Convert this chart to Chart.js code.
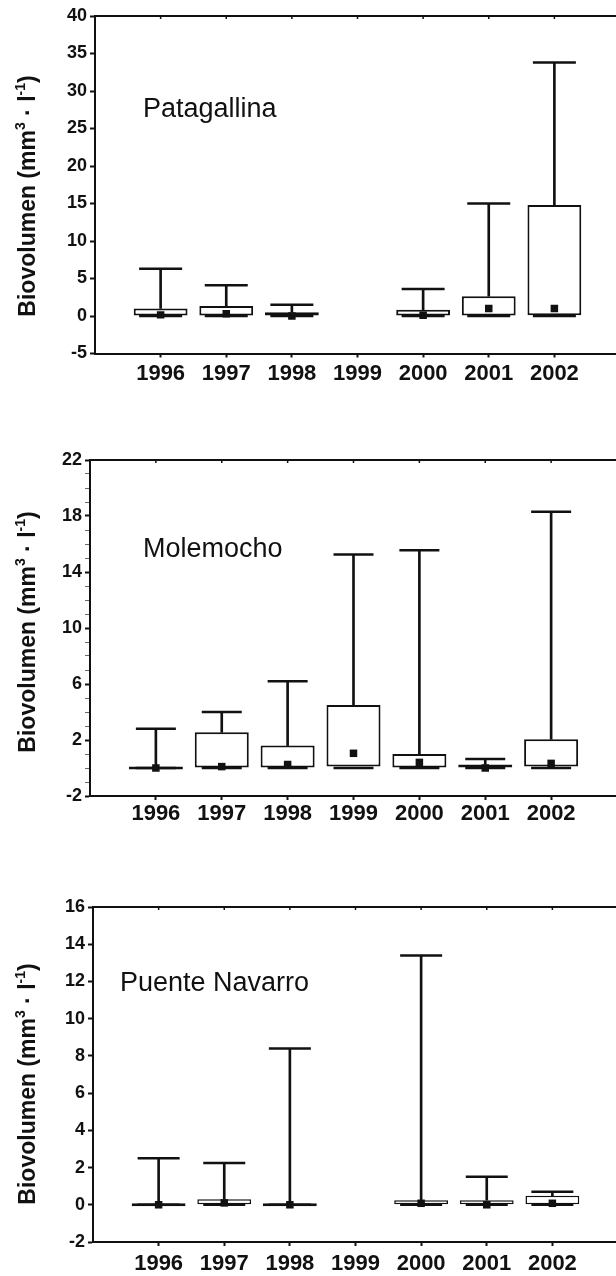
<!DOCTYPE html>
<html>
<head>
<meta charset="utf-8">
<script src="https://cdn.jsdelivr.net/npm/chart.js@4.4.0/dist/chart.umd.min.js"></script>
<style>
html, body { margin: 0; padding: 0; background: #fff; overflow: hidden; width: 616px; height: 1276px; }
canvas { position: absolute; left: 0; }
</style>
</head>
<body>
<canvas id="c1" width="620" height="400" style="top:0px"></canvas>
<canvas id="c2" width="620" height="420" style="top:420px"></canvas>
<canvas id="c3" width="620" height="416" style="top:860px"></canvas>
<script>
var years = [1996, 1997, 1998, 1999, 2000, 2001, 2002];

// Patagallina (no sample in 1999)
var pataMax = [6.3, 4.1, 1.5, null, 3.6, 15.0, 33.8];
var pataQ3  = [1.0, 1.35, 0.5, null, 0.85, 2.65, 14.8];
var pataMed = [0.15, 0.3, 0.0, null, 0.1, 1.0, 1.0];
var pataQ1  = [0, 0, 0, null, 0, 0, 0.1];
var pataMin = [0, 0, 0, null, 0, 0, 0];
var pataTicks = [-5, 0, 5, 10, 15, 20, 25, 30, 35, 40];

// Molemocho
var moleMax = [2.8, 4.0, 6.2, 15.25, 15.55, 0.65, 18.3];
var moleQ3  = [0.05, 2.55, 1.6, 4.5, 1.0, 0.25, 2.05];
var moleMed = [0.0, 0.1, 0.25, 1.05, 0.4, 0.0, 0.33];
var moleQ1  = [0, 0, 0, 0.1, 0, 0, 0.1];
var moleMin = [0, 0, 0, 0, 0, 0, 0];
var moleTicks = [-2, 2, 6, 10, 14, 18, 22];

// Puente Navarro (no sample in 1999)
var puenMax = [2.5, 2.25, 8.4, null, 13.4, 1.5, 0.7];
var puenQ3  = [0.12, 0.3, 0.0, null, 0.25, 0.25, 0.48];
var puenMed = [0.0, 0.1, 0.0, null, 0.08, 0.0, 0.08];
var puenQ1  = [0, 0, 0, null, 0, 0, 0];
var puenMin = [0, 0, 0, null, 0, 0, 0];
var puenTicks = [-2, 0, 2, 4, 6, 8, 10, 12, 14, 16];

Chart.defaults.font.family = '"Liberation Sans", Arial, sans-serif';
Chart.defaults.color = '#111';

var INK = '#111';
var FONT = '"Liberation Sans", Arial, sans-serif';

function drawYTitle(ctx, x, cy) {
    var big = 'bold 23px ' + FONT;
    var small = 'bold 14px ' + FONT;
    var parts = [
        { t: 'Biovolumen (mm', f: big, dy: 0 },
        { t: '3', f: small, dy: -10 },
        { t: ' \u00b7 l', f: big, dy: 0 },
        { t: '-1', f: small, dy: -10 },
        { t: ')', f: big, dy: 0 }
    ];
    var total = 0;
    for (var i = 0; i < parts.length; i++) {
        ctx.font = parts[i].f;
        parts[i].w = ctx.measureText(parts[i].t).width;
        total += parts[i].w;
    }
    ctx.save();
    ctx.translate(x, cy);
    ctx.rotate(-Math.PI / 2);
    ctx.fillStyle = INK;
    ctx.textBaseline = 'alphabetic';
    ctx.textAlign = 'left';
    var pos = -total / 2;
    for (var j = 0; j < parts.length; j++) {
        ctx.font = parts[j].f;
        ctx.fillText(parts[j].t, pos, parts[j].dy);
        pos += parts[j].w;
    }
    ctx.restore();
}

var decor = {
    id: 'decor',
    afterDraw: function(chart, args, opts) {
        var ctx = chart.ctx;
        var x = chart.scales.x;
        var top = chart.chartArea.top;
        ctx.save();
        // small inward ticks on the top frame
        ctx.strokeStyle = INK;
        ctx.lineWidth = 1.5;
        for (var i = 0; i < years.length; i++) {
            var px = x.getPixelForValue(years[i]);
            ctx.beginPath();
            ctx.moveTo(px, top);
            ctx.lineTo(px, top + 3);
            ctx.stroke();
        }
        ctx.fillStyle = INK;
        ctx.font = '27px ' + FONT;
        ctx.textBaseline = 'alphabetic';
        ctx.fillText(opts.name, opts.nameX, opts.nameY);
        ctx.restore();
        drawYTitle(ctx, 35, opts.titleY);
    }
};

function makePanel(p) {
    var boxes = [], stems = [], caps = [], meds = [];
    for (var i = 0; i < years.length; i++) {
        if (p.max[i] === null) continue;
        boxes.push({ x: years[i], y: [p.q1[i], p.q3[i]] });
        stems.push({ x: years[i], y: [p.q3[i], p.max[i]] });
        caps.push({ x: years[i], y: p.max[i] });
        caps.push({ x: years[i], y: p.min[i] });
        meds.push({ x: years[i], y: p.med[i] });
    }

    var yVals = p.ticks;
    if (p.minor) {
        yVals = [];
        for (var v = p.ticks[0]; v <= p.ticks[p.ticks.length - 1]; v++) yVals.push(v);
    }
    var isMajor = function(v) { return p.ticks.indexOf(v) >= 0; };

    new Chart(document.getElementById(p.id), {
        type: 'bar',
        data: {
            datasets: [
                {
                    type: 'scatter', data: meds, pointStyle: 'rect', pointRadius: 5.3,
                    pointBackgroundColor: INK, pointBorderWidth: 0
                },
                {
                    type: 'scatter', data: caps, pointStyle: 'line', pointRadius: p.capR,
                    pointBorderColor: INK, pointBorderWidth: 2.5
                },
                {
                    data: boxes, grouped: false, barPercentage: 0.82, categoryPercentage: 1,
                    backgroundColor: '#fff', borderColor: INK, borderWidth: p.boxW,
                    borderSkipped: false, minBarLength: 3
                },
                {
                    data: stems, grouped: false, barThickness: 2,
                    backgroundColor: INK, borderWidth: 0
                }
            ]
        },
        options: {
            responsive: false,
            animation: false,
            events: [],
            layout: { autoPadding: false, padding: { top: p.top, right: p.padR, bottom: 0, left: 0 } },
            plugins: {
                legend: { display: false },
                tooltip: { enabled: false },
                decor: { name: p.name, nameX: p.nameX, nameY: p.nameY, titleY: p.titleY }
            },
            scales: {
                x: {
                    type: 'linear',
                    position: 'bottom',
                    min: years[0] - 1,
                    max: years[years.length - 1] + 1,
                    offset: false,
                    afterFit: function(s) {
                        s.height = p.xh;
                        s.paddingLeft = 0;
                        s.paddingRight = 0;
                    },
                    ticks: {
                        stepSize: 1,
                        autoSkip: false,
                        maxRotation: 0,
                        padding: p.tickPad,
                        font: { size: 22, weight: 'bold' },
                        color: INK,
                        callback: function(v) { return years.indexOf(v) >= 0 ? String(v) : ''; }
                    },
                    grid: {
                        offset: false,
                        drawOnChartArea: false,
                        tickLength: 4,
                        tickWidth: 2,
                        tickColor: function(c) {
                            return c.tick && years.indexOf(c.tick.value) >= 0 ? INK : 'rgba(0,0,0,0)';
                        }
                    },
                    border: { display: true, color: INK, width: 2 }
                },
                xTop: {
                    type: 'linear',
                    axis: 'x',
                    position: 'top',
                    min: years[0] - 1,
                    max: years[years.length - 1] + 1,
                    offset: false,
                    afterFit: function(s) {
                        s.height = 0;
                        s.paddingLeft = 0;
                        s.paddingRight = 0;
                    },
                    ticks: { display: false },
                    grid: { display: true, drawOnChartArea: false, drawTicks: false, offset: false },
                    border: { display: true, color: INK, width: 2 }
                },
                y: {
                    type: 'linear',
                    min: p.ticks[0],
                    max: p.ticks[p.ticks.length - 1],
                    afterFit: function(s) { s.width = p.left; },
                    afterBuildTicks: function(s) {
                        s.ticks = yVals.map(function(v) { return { value: v }; });
                    },
                    ticks: {
                        autoSkip: false,
                        padding: 3,
                        font: { size: 18, weight: 'bold' },
                        color: INK,
                        callback: function(v) { return isMajor(v) ? String(v) : ''; }
                    },
                    grid: {
                        drawOnChartArea: false,
                        tickLength: 5,
                        tickWidth: function(c) { return c.tick && isMajor(c.tick.value) ? 2 : 1; },
                        tickColor: function(c) { return c.tick && isMajor(c.tick.value) ? INK : '#666'; }
                    },
                    border: { display: true, color: INK, width: 2 }
                }
            }
        },
        plugins: [decor]
    });
}

makePanel({
    id: 'c1', name: 'Patagallina',
    max: pataMax, q3: pataQ3, med: pataMed, q1: pataQ1, min: pataMin, ticks: pataTicks, minor: false,
    left: 95, top: 16, xh: 46.5, padR: 0, tickPad: 3, capR: 21.5, boxW: 2,
    nameX: 143, nameY: 117, titleY: 196
});

makePanel({
    id: 'c2', name: 'Molemocho',
    max: moleMax, q3: moleQ3, med: moleMed, q1: moleQ1, min: moleMin, ticks: moleTicks, minor: true,
    left: 90, top: 40, xh: 44, padR: 3, tickPad: 1, capR: 20, boxW: 2,
    nameX: 143, nameY: 137, titleY: 212
});

makePanel({
    id: 'c3', name: 'Puente Navarro',
    max: puenMax, q3: puenQ3, med: puenMed, q1: puenQ1, min: puenMin, ticks: puenTicks, minor: false,
    left: 93, top: 47, xh: 34, padR: 2, tickPad: 5, capR: 21, boxW: 1.5,
    nameX: 120, nameY: 131, titleY: 224
});
</script>
</body>
</html>
